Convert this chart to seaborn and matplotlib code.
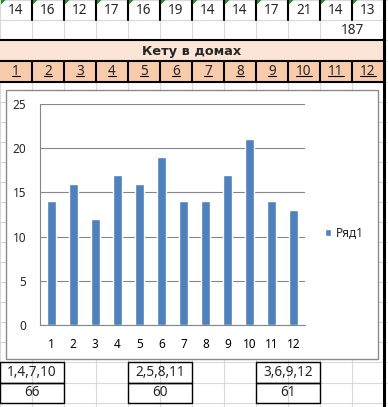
import numpy as np
import matplotlib
matplotlib.use('Agg')
import matplotlib.pyplot as plt
import seaborn as sns
from matplotlib.patches import Rectangle, Polygon

# ================== DATA ==================
houses = [1, 2, 3, 4, 5, 6, 7, 8, 9, 10, 11, 12]
counts = [14, 16, 12, 17, 16, 19, 14, 14, 17, 21, 14, 13]
total_label = "187"
title_text = "Кету в домах"
series_name = "Ряд1"
group_labels = ["1,4,7,10", "2,5,8,11", "3,6,9,12"]
group_totals = ["66", "60", "61"]

sns.set_style("white")
plt.rcParams['font.family'] = ['Noto Sans', 'DejaVu Sans']

W, H = 388, 407
fig = plt.figure(figsize=(W / 100, H / 100), dpi=100)

# ================== SHEET BACKGROUND ==================
bg = fig.add_axes([0, 0, 1, 1])
bg.set_xlim(0, W)
bg.set_ylim(H, 0)
bg.axis('off')

col_x = [32 * i for i in range(13)]
row_y = [0, 20, 40, 61, 82] + [82 + 20 * k for k in range(1, 15)] + [383, 403]
grid_c = '#D9D9D9'
cell_fs = 9.8

# fills
bg.add_patch(Rectangle((0, 40), 384, 21, facecolor='#FCE4D6', edgecolor='none', zorder=0))
bg.add_patch(Rectangle((0, 61), 384, 21, facecolor='#F8CBAD', edgecolor='none', zorder=0))

# light grid
for y in row_y:
    bg.plot([0, W], [y, y], color=grid_c, lw=0.8, zorder=1)
for x in col_x:
    top_end = 20 if x == 352 else 40
    bg.plot([x, x], [0, top_end], color=grid_c, lw=0.8, zorder=1)
    bg.plot([x, x], [82, H], color=grid_c, lw=0.8, zorder=1)

# heavy borders
for x in col_x[1:12]:
    bg.plot([x, x], [0, 20], color='black', lw=1.5, zorder=2)
    bg.plot([x, x], [61, 82], color='black', lw=1.5, zorder=2)
for y in [40, 61, 82]:
    bg.plot([0, 384], [y, y], color='black', lw=1.5, zorder=2)
bg.plot([384, 384], [0, H], color='black', lw=2.2, zorder=6)

# green error markers
for x in col_x[:12]:
    bg.add_patch(Polygon([(x + 1, 0), (x + 5.5, 0), (x + 1, 4.5)], closed=True,
                         facecolor='#1F8F1F', edgecolor='none', zorder=3))

# cell texts
for x, v in zip(col_x, counts):
    bg.text(x + 16, 10.5, str(v), ha='center', va='center', fontsize=cell_fs, zorder=4)
bg.text(352, 30.5, total_label, ha='center', va='center', fontsize=cell_fs, zorder=4)
bg.text(192, 51, title_text, ha='center', va='center', fontsize=9.3,
        fontweight='bold', family=['DejaVu Sans'], zorder=4)
month_texts = []
for x, h in zip(col_x, houses):
    month_texts.append(bg.text(x + 16, 71.5, str(h), ha='center', va='center', fontsize=cell_fs, zorder=4))

# bottom summary boxes
for gx, lab, tot in zip([0, 128, 256], group_labels, group_totals):
    bg.add_patch(Rectangle((gx, 362), 64, 21, facecolor='none', edgecolor='black', lw=1, zorder=4))
    bg.add_patch(Rectangle((gx, 383), 64, 20, facecolor='none', edgecolor='black', lw=1, zorder=4))
    bg.text(gx + 32, 372.5, lab, ha='center', va='center', fontsize=cell_fs, zorder=4)
    bg.text(gx + 32, 393, tot, ha='center', va='center', fontsize=cell_fs, zorder=4)

# chart frame
bg.add_patch(Rectangle((6, 90), 372, 269, facecolor='white', edgecolor='#8C8C8C', lw=1, zorder=5))

# ================== CHART ==================
left, right, top, bottom = 40, 305, 104, 325
ax = fig.add_axes([left / W, 1 - bottom / H, (right - left) / W, (bottom - top) / H])
ax.set_zorder(10)
ax.patch.set_alpha(0)

sns.barplot(x=houses, y=counts, color='#4F81BD', saturation=1, width=0.41, ax=ax)
ax.set_xlim(-0.5, 11.5)
ax.set_ylim(0, 25)
ax.set_yticks(np.arange(0, 26, 5))
ax.set_xlabel('')
ax.set_ylabel('')
ax.yaxis.grid(True, color='#868686', lw=0.8)
ax.set_axisbelow(True)
for s in ['top', 'right']:
    ax.spines[s].set_visible(False)
for s in ['left', 'bottom']:
    ax.spines[s].set_color('#868686')
    ax.spines[s].set_linewidth(0.8)
ax.set_xticks(np.arange(-0.5, 12, 1), minor=True)
ax.tick_params(axis='x', which='major', length=0, pad=9, labelsize=8.5, colors='black')
ax.tick_params(axis='x', which='minor', length=4, color='#868686', width=0.8)
ax.tick_params(axis='y', length=4, color='#868686', width=0.8, pad=6, labelsize=8.5)

ax.legend([ax.patches[0]], [series_name], loc='center left',
          bbox_to_anchor=(325 / W, 1 - 233 / H), bbox_transform=fig.transFigure,
          frameon=False, fontsize=8.5, handlelength=0.5, handleheight=0.5,
          handletextpad=0.4, borderpad=0, borderaxespad=0)

# underline the house numbers
fig.canvas.draw()
inv = bg.transData.inverted()
for t in month_texts:
    bb = t.get_window_extent()
    (x0, y0), (x1, _) = inv.transform([[bb.x0, bb.y0], [bb.x1, bb.y1]])
    bg.plot([x0, x1], [y0 - 2.8, y0 - 2.8], color='black', lw=0.8, zorder=4)

fig.savefig('out.png', dpi=100)
